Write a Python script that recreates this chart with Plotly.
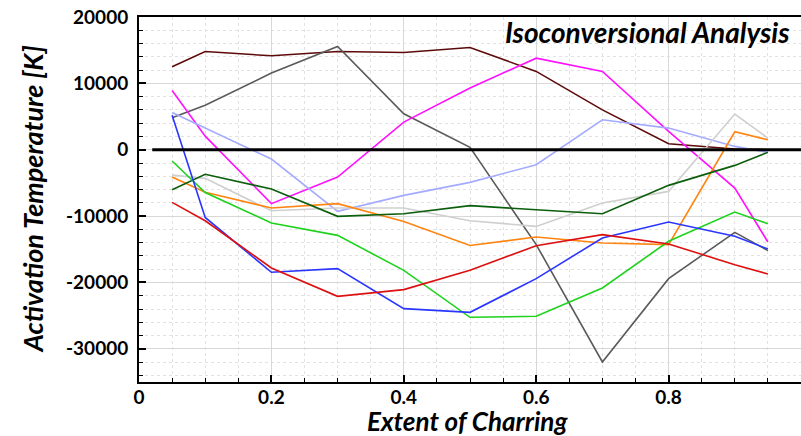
import plotly.graph_objects as go

extent = [0.05, 0.1, 0.2, 0.3, 0.4, 0.5, 0.6, 0.7, 0.8, 0.9, 0.95]

maroon = [12500, 14800, 14150, 14800, 14650, 15400, 11800, 6000, 900, 100, 0]
dark_gray = [4800, 6700, 11550, 15560, 5420, 350, -14300, -31980, -19430, -12450, -15200]
magenta = [8930, 2050, -8130, -4120, 4170, 9300, 13800, 11800, 2760, -5770, -13900]
lavender = [5620, 3300, -1400, -9290, -6880, -4920, -2260, 4520, 3260, 500, -400]
light_gray = [-3820, -4320, -9200, -8790, -8790, -10700, -11550, -8030, -6280, 5370, 1760]
orange = [-4120, -6420, -8790, -8130, -10800, -14430, -13150, -14060, -14300, 2710, 1500]
dark_green = [-6020, -3700, -5930, -10040, -9640, -8430, -9040, -9640, -5370, -2360, -400]
green = [-1700, -6450, -11040, -12900, -18170, -25250, -25100, -20830, -13800, -9390, -11150]
blue = [5200, -10200, -18470, -17920, -23950, -24500, -19430, -13300, -10900, -13050, -14960]
red = [-7930, -10700, -17820, -22090, -21080, -18170, -14460, -12800, -14200, -17320, -18720]

series = [
    ("maroon", maroon, "#5e0a0a"),
    ("dark gray", dark_gray, "#5a5a5a"),
    ("magenta", magenta, "#ff10ff"),
    ("lavender", lavender, "#a4abff"),
    ("light gray", light_gray, "#cfcfcf"),
    ("orange", orange, "#ff8410"),
    ("dark green", dark_green, "#0b5e0b"),
    ("green", green, "#1ed21e"),
    ("blue", blue, "#2a36ff"),
    ("red", red, "#dd1010"),
]

x_ticks = [0, 0.2, 0.4, 0.6, 0.8, 1]
x_tick_labels = ["0", "0.2", "0.4", "0.6", "0.8", "1"]
y_ticks = [-30000, -20000, -10000, 0, 10000, 20000]
y_tick_labels = ["-30000", "-20000", "-10000", "0", "10000", "20000"]

x_title = "Extent of Charring"
y_title = "Activation Temperature [K]"
chart_title = "Isoconversional Analysis"

fig = go.Figure()
for name, vals, color in series:
    fig.add_trace(go.Scatter(x=extent, y=vals, mode="lines", name=name,
                             line=dict(color=color, width=1.6), showlegend=False))

fig.add_shape(type="line", xref="x", yref="y", x0=0.02, x1=1, y0=0, y1=0,
              line=dict(color="black", width=3), layer="above")

font_family = "Lato, 'DejaVu Sans', sans-serif"

axis_common = dict(
    showline=True, linecolor="black", linewidth=2, mirror=True,
    ticks="inside", ticklen=7, tickwidth=2, tickcolor="black",
    showgrid=True, gridcolor="#d8d8d8", gridwidth=1,
    zeroline=False, automargin=False,
    tickfont=dict(family=font_family, size=19, color="black", weight="bold"),
)

fig.update_xaxes(
    range=[0, 1], tickvals=x_ticks, ticktext=x_tick_labels,
    ticklabelstandoff=-3,
    minor=dict(dtick=0.05, ticks="inside", ticklen=4, tickcolor="black", tickwidth=1,
               showgrid=True, gridcolor="#e2e2e2", griddash="dot", gridwidth=1),
    **axis_common,
)
fig.update_yaxes(
    range=[-35000, 20000], tickvals=y_ticks, ticktext=y_tick_labels,
    ticklabelstandoff=5,
    minor=dict(dtick=2000, ticks="inside", ticklen=4, tickcolor="black", tickwidth=1,
               showgrid=True, gridcolor="#e2e2e2", griddash="dot", gridwidth=1),
    **axis_common,
)

def tfont(size):
    return dict(family=font_family, size=size, color="black", weight="bold", style="italic")

fig.add_annotation(text=x_title, xref="paper", yref="paper",
                   x=0.4955, y=-0.106, xanchor="center", yanchor="middle", showarrow=False,
                   font=tfont(26))
fig.add_annotation(text=y_title, xref="paper", yref="paper", textangle=-90,
                   x=-0.1616, y=0.5, xanchor="center", yanchor="middle", showarrow=False,
                   font=tfont(27))
fig.add_annotation(text=chart_title, xref="paper", yref="paper",
                   x=0.9864, y=0.958, xanchor="right", yanchor="middle", showarrow=False,
                   font=tfont(28))

fig.update_layout(
    width=801, height=436,
    margin=dict(l=139, r=0, t=17, b=54),
    plot_bgcolor="white", paper_bgcolor="white",
)

fig.write_html("out.html", config={"displayModeBar": False},
               post_script="document.body.style.margin='0';document.body.style.overflow='hidden';")
